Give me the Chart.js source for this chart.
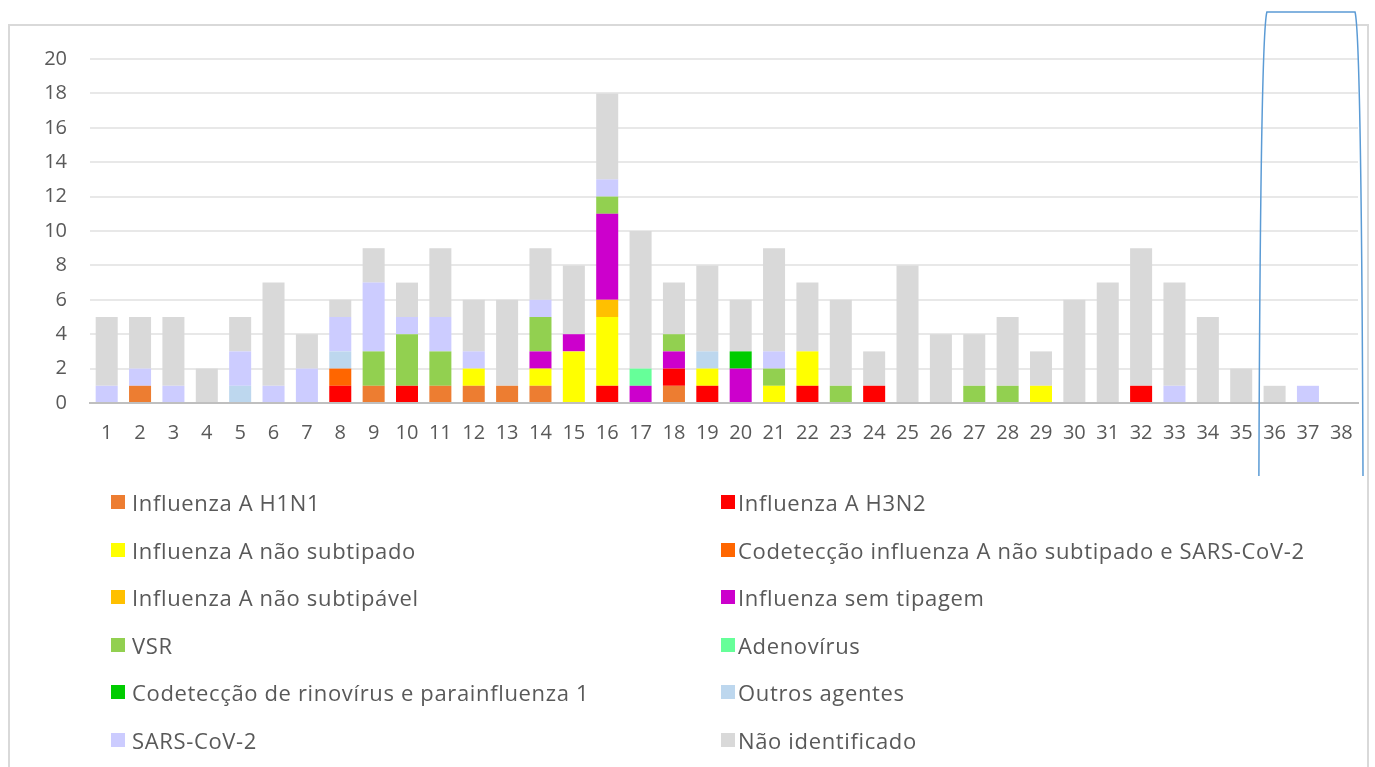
<!DOCTYPE html>
<html>
<head>
<meta charset="utf-8">
<script src="https://cdn.jsdelivr.net/npm/chart.js@4.4.1/dist/chart.umd.min.js"></script>
<style>
  html, body { margin:0; padding:0; background:#fff; width:1375px; height:767px; overflow:hidden; }
  #frame { position:absolute; left:8px; top:24px; width:1361px; height:800px; border:2px solid #D9D9D9; box-sizing:border-box; }
  #wrap { position:absolute; left:0; top:0; width:1375px; height:480px; }
  #legend { position:absolute; left:0; top:0; width:1375px; height:767px; pointer-events:none;
            font-family:"Open Sans", sans-serif; font-size:22px; letter-spacing:0.65px; color:#595959; }
  .item { position:absolute; height:30px; line-height:30px; white-space:nowrap; }
  .box { position:absolute; top:8px; width:14px; height:14px; }
  .txt { position:absolute; top:0; }
</style>
</head>
<body>
<div id="frame"></div>
<div id="wrap"><canvas id="c" width="1375" height="480"></canvas></div>
<div id="legend"></div>
<script>
const categories = ["1","2","3","4","5","6","7","8","9","10","11","12","13","14","15","16","17","18","19","20","21","22","23","24","25","26","27","28","29","30","31","32","33","34","35","36","37","38"];
const yTicks = [0,2,4,6,8,10,12,14,16,18,20];

const seriesNames = [
  "Influenza A H1N1",
  "Influenza A H3N2",
  "Influenza A não subtipado",
  "Codetecção influenza A não subtipado e SARS-CoV-2",
  "Influenza A não subtipável",
  "Influenza sem tipagem",
  "VSR",
  "Adenovírus",
  "Codetecção de rinovírus e parainfluenza 1",
  "Outros agentes",
  "SARS-CoV-2",
  "Não identificado"
];
const seriesColors = ["#ED7D31","#FF0000","#FFFF00","#FF6600","#FFC000","#CC00CC","#92D050","#66FF99","#00CC00","#BDD7EE","#CCCCFF","#D9D9D9"];

const h1n1        = [0,1,0,0,0,0,0,0,1,0, 1,1,1,1,0,0,0,1,0,0, 0,0,0,0,0,0,0,0,0,0, 0,0,0,0,0,0,0,0];
const h3n2        = [0,0,0,0,0,0,0,1,0,1, 0,0,0,0,0,1,0,1,1,0, 0,1,0,1,0,0,0,0,0,0, 0,1,0,0,0,0,0,0];
const naoSubtip   = [0,0,0,0,0,0,0,0,0,0, 0,1,0,1,3,4,0,0,1,0, 1,2,0,0,0,0,0,0,1,0, 0,0,0,0,0,0,0,0];
const codetAsars  = [0,0,0,0,0,0,0,1,0,0, 0,0,0,0,0,0,0,0,0,0, 0,0,0,0,0,0,0,0,0,0, 0,0,0,0,0,0,0,0];
const naoSubtipavel=[0,0,0,0,0,0,0,0,0,0, 0,0,0,0,0,1,0,0,0,0, 0,0,0,0,0,0,0,0,0,0, 0,0,0,0,0,0,0,0];
const semTipagem  = [0,0,0,0,0,0,0,0,0,0, 0,0,0,1,1,5,1,1,0,2, 0,0,0,0,0,0,0,0,0,0, 0,0,0,0,0,0,0,0];
const vsr         = [0,0,0,0,0,0,0,0,2,3, 2,0,0,2,0,1,0,1,0,0, 1,0,1,0,0,0,1,1,0,0, 0,0,0,0,0,0,0,0];
const adeno       = [0,0,0,0,0,0,0,0,0,0, 0,0,0,0,0,0,1,0,0,0, 0,0,0,0,0,0,0,0,0,0, 0,0,0,0,0,0,0,0];
const rinoPara    = [0,0,0,0,0,0,0,0,0,0, 0,0,0,0,0,0,0,0,0,1, 0,0,0,0,0,0,0,0,0,0, 0,0,0,0,0,0,0,0];
const outros      = [0,0,0,0,1,0,0,1,0,0, 0,0,0,0,0,0,0,0,1,0, 0,0,0,0,0,0,0,0,0,0, 0,0,0,0,0,0,0,0];
const sarsCov2    = [1,1,1,0,2,1,2,2,4,1, 2,1,0,1,0,1,0,0,0,0, 1,0,0,0,0,0,0,0,0,0, 0,0,1,0,0,0,1,0];
const naoIdent    = [4,3,4,2,2,6,2,1,2,2, 4,3,5,3,4,5,8,3,5,3, 6,4,5,2,8,4,3,4,2,6, 7,8,6,5,2,1,0,0];

const seriesValues = [h1n1,h3n2,naoSubtip,codetAsars,naoSubtipavel,semTipagem,vsr,adeno,rinoPara,outros,sarsCov2,naoIdent];

const datasets = seriesNames.map((name, i) => ({
  label: name,
  data: seriesValues[i],
  backgroundColor: seriesColors[i],
  borderWidth: 0,
  barPercentage: 0.66,
  categoryPercentage: 1.0
}));

const overlayPlugin = {
  id: 'overlay',
  afterDraw(chart) {
    const ctx = chart.ctx;
    const x = chart.scales.x;
    const half = (x.getPixelForValue(1) - x.getPixelForValue(0)) / 2;
    const left = x.getPixelForValue(35) - half + 1;
    const right = chart.chartArea.right + 5;
    const topY = 12, botY = 476;
    ctx.save();
    ctx.strokeStyle = '#5B9BD5';
    ctx.lineWidth = 1.5;
    ctx.beginPath();
    ctx.moveTo(left, botY);
    ctx.bezierCurveTo(left + 1, 200, left + 3, 30, left + 8, topY);
    ctx.lineTo(right - 8, topY);
    ctx.bezierCurveTo(right - 3, 30, right - 1, 200, right, botY);
    ctx.stroke();
    ctx.restore();
  }
};

new Chart(document.getElementById('c'), {
  type: 'bar',
  data: { labels: categories, datasets },
  options: {
    responsive: false,
    animation: false,
    layout: { padding: { left: 0, right: 17, top: 59, bottom: 0 } },
    plugins: { legend: { display: false }, tooltip: { enabled: false } },
    scales: {
      x: {
        stacked: true,
        grid: { display: false, drawTicks: false },
        border: { display: true, color: '#BFBFBF', width: 2 },
        ticks: { color: '#595959', font: { family: 'Open Sans', size: 20 }, padding: 18, maxRotation: 0, autoSkip: false },
        afterFit(s) { s.height = 77; }
      },
      y: {
        stacked: true,
        min: 0, max: 20,
        afterBuildTicks(s) { s.ticks = yTicks.map(v => ({ value: v })); },
        grid: { color: '#E8E8E8', lineWidth: 2, drawTicks: false },
        border: { display: false },
        ticks: { color: '#595959', font: { family: 'Open Sans', size: 20 }, padding: 23 },
        afterFit(s) { s.width = 90; }
      }
    }
  },
  plugins: [overlayPlugin]
});

// Legend in two columns (HTML text)
const legend = document.getElementById('legend');
const rowY = [502, 549.5, 597, 645, 692, 740];
seriesNames.forEach((name, i) => {
  const col = i % 2, row = Math.floor(i / 2);
  const item = document.createElement('div');
  item.className = 'item';
  item.style.left = (col === 0 ? 111 : 721) + 'px';
  item.style.top = (rowY[row] - 15) + 'px';
  const box = document.createElement('div');
  box.className = 'box';
  box.style.left = '0px';
  box.style.background = seriesColors[i];
  const txt = document.createElement('div');
  txt.className = 'txt';
  txt.style.left = (col === 0 ? 21 : 17) + 'px';
  txt.textContent = name;
  item.appendChild(box); item.appendChild(txt);
  legend.appendChild(item);
});
</script>
</body>
</html>
